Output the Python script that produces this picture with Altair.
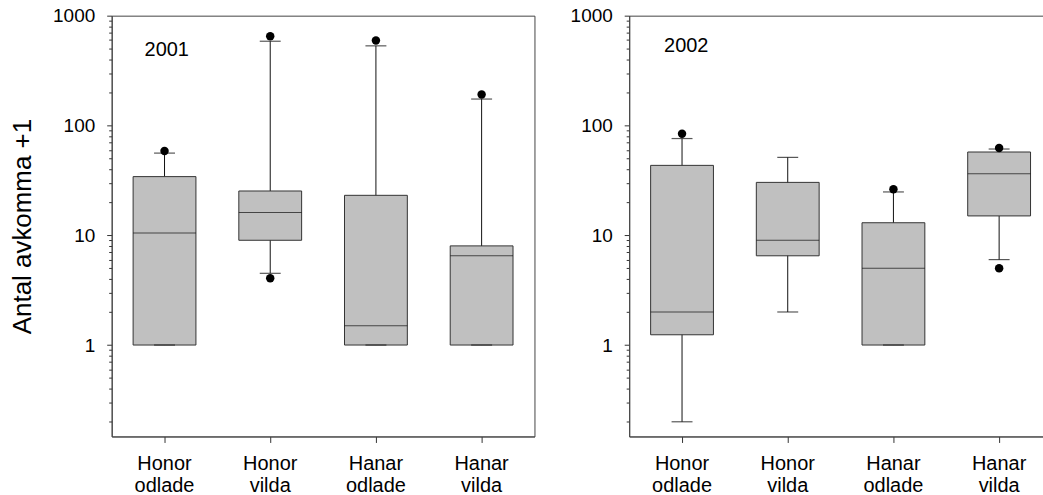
import altair as alt
import pandas as pd

# Groups shown on the x axis
categories = ["Honor odlade", "Honor vilda", "Hanar odlade", "Hanar vilda"]

# 2001 box statistics (offspring count + 1)
q1_2001 = [1.0, 9.0, 1.0, 1.0]
median_2001 = [10.5, 16.1, 1.5, 6.5]
q3_2001 = [34.2, 25.3, 23.1, 8.0]
low_2001 = [1.0, 4.5, 1.0, 1.0]
high_2001 = [56.0, 585.0, 531.0, 174.0]
out_cat_2001 = ["Honor odlade", "Honor vilda", "Honor vilda", "Hanar odlade", "Hanar vilda"]
out_val_2001 = [58.5, 650.0, 4.05, 593.0, 191.0]

# 2002 box statistics
q1_2002 = [1.24, 6.5, 1.0, 15.0]
median_2002 = [2.0, 9.0, 5.0, 36.4]
q3_2002 = [43.3, 30.3, 13.0, 57.3]
low_2002 = [0.2, 2.0, 1.0, 6.0]
high_2002 = [76.0, 51.2, 24.8, 61.0]
out_cat_2002 = ["Honor odlade", "Hanar odlade", "Hanar vilda", "Hanar vilda"]
out_val_2002 = [84.0, 26.2, 5.0, 62.3]

# Log axis ticks: decades are labelled, the rest are minor ticks
y_ticks = [0.2, 0.3, 0.4, 0.5, 0.6, 0.7, 0.8, 0.9,
           1, 2, 3, 4, 5, 6, 7, 8, 9,
           10, 20, 30, 40, 50, 60, 70, 80, 90,
           100, 200, 300, 400, 500, 600, 700, 800, 900, 1000]

FONT = "Liberation Sans"
PANEL_W = 424
PANEL_H = 422

is_decade = "indexof([1,10,100,1000], datum.value) >= 0"


def panel(year, q1, med, q3, lo, hi, out_cat, out_val, title, label_y, label_x):
    stats = pd.DataFrame({"cat": categories, "q1": q1, "med": med, "q3": q3,
                          "lo": lo, "hi": hi})
    outs = pd.DataFrame({"cat": out_cat, "val": out_val})
    tag = pd.DataFrame({"year": [year]})

    yscale = alt.Scale(type="log", domain=[0.147, 1000], nice=False)
    yaxis = alt.Axis(values=y_ticks,
                     labelExpr=is_decade + " ? format(datum.value, 'd') : ''",
                     tickSize={"condition": {"test": is_decade, "value": 5}, "value": 3},
                     labelFontSize=19, labelPadding=12, titlePadding=17,
                     titleFontSize=26, titleFontWeight="normal", grid=False)
    xscale = alt.Scale(paddingInner=0, paddingOuter=0)
    xaxis = alt.Axis(labelAngle=0, labelExpr="split(datum.label, ' ')",
                     labelFontSize=20, tickSize=6, labelPadding=11, labelLineHeight=22)

    def X():
        return alt.X("cat:N", sort=categories, scale=xscale, axis=xaxis, title=None)

    def Y(field):
        return alt.Y(field, type="quantitative", scale=yscale, axis=yaxis, title=title)

    base = alt.Chart(stats)
    whisker = base.mark_rule(color="#111", strokeWidth=1).encode(
        x=X(), y=Y("lo"), y2="hi")
    box = base.mark_bar(size=63, fill="#c0c0c0", stroke="#333", strokeWidth=1).encode(
        x=X(), y=Y("q1"), y2="q3")
    median = base.mark_tick(size=63, thickness=1, color="#111").encode(
        x=X(), y=Y("med"))
    cap_lo = base.mark_tick(size=21, thickness=1.2, color="#111").encode(
        x=X(), y=Y("lo"))
    cap_hi = base.mark_tick(size=21, thickness=1.2, color="#111").encode(
        x=X(), y=Y("hi"))
    dots = alt.Chart(outs).mark_circle(size=72, color="black", opacity=1).encode(
        x=X(), y=Y("val"))
    year_text = alt.Chart(tag).mark_text(align="left", baseline="middle",
                                         fontSize=20, font=FONT, color="black").encode(
        text="year:N",
        x=alt.value(label_x),
        y=alt.YDatum(label_y, scale=yscale, axis=yaxis, title=title))

    return alt.layer(whisker, box, median, cap_lo, cap_hi, dots, year_text).properties(
        width=PANEL_W, height=PANEL_H)


p2001 = panel("2001", q1_2001, median_2001, q3_2001, low_2001, high_2001,
              out_cat_2001, out_val_2001, "Antal avkomma +1", 488, 33)
p2002 = panel("2002", q1_2002, median_2002, q3_2002, low_2002, high_2002,
              out_cat_2002, out_val_2002, None, 531, 35)

# the right-hand frame runs past the page edge
chart = alt.hconcat(p2001, p2002, spacing=34).properties(
    padding={"left": 9, "top": 5, "right": -10, "bottom": -2},
    background="white",
).configure_view(
    stroke="#444", strokeWidth=1
).configure_axis(
    labelFont=FONT, titleFont=FONT, labelColor="black",
    titleColor="black", domainColor="#444", tickColor="#333", domainWidth=1,
)

chart.save("out.html", embed_options={"renderer": "svg", "actions": False})
